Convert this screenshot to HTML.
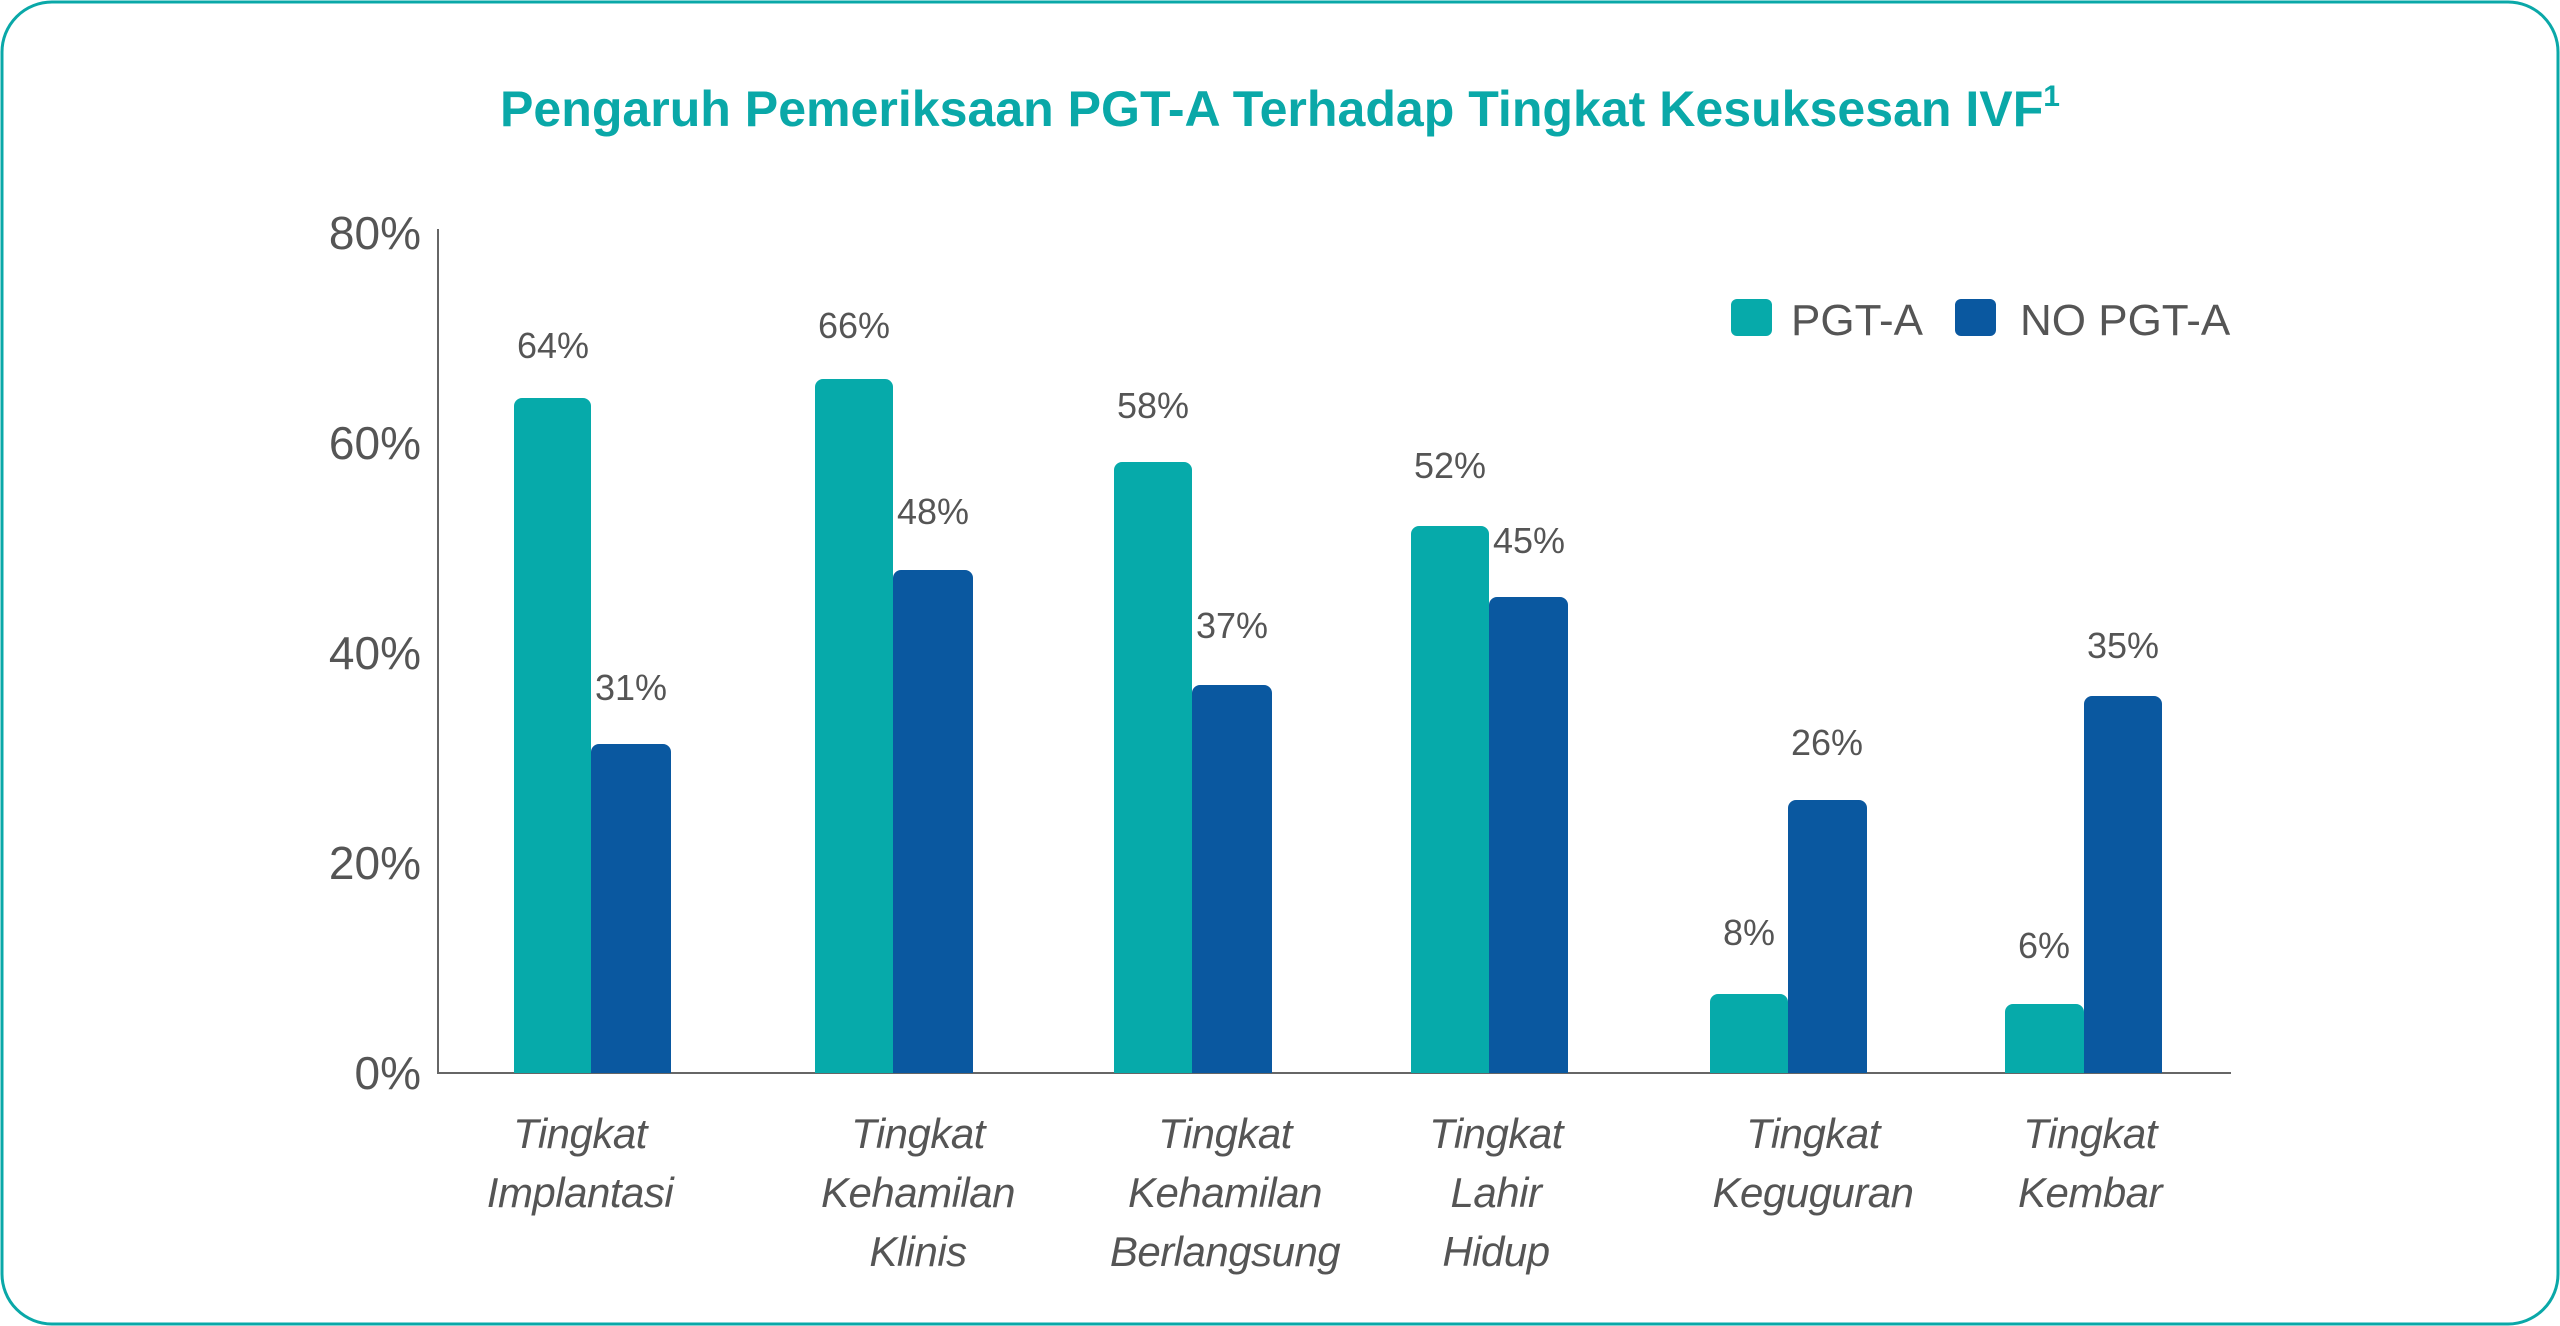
<!DOCTYPE html>
<html><head><meta charset="utf-8"><style>
html,body{margin:0;padding:0;background:#fff;}
svg{display:block;}
text{font-family:"Liberation Sans",sans-serif;}
</style></head><body>
<svg width="2560" height="1326" viewBox="0 0 2560 1326" xmlns="http://www.w3.org/2000/svg">
<rect x="2" y="2" width="2556" height="1322" rx="50" ry="50" fill="#fff" stroke="#0aa8a8" stroke-width="3"/>
<text x="1280" y="126" text-anchor="middle" font-size="50" font-weight="bold" fill="#0aa8a8" textLength="1560" lengthAdjust="spacingAndGlyphs">Pengaruh Pemeriksaan PGT-A Terhadap Tingkat Kesuksesan IVF<tspan font-size="30" dy="-20">1</tspan></text>
<g fill="#555" font-size="46" text-anchor="end">
<text x="421" y="249">80%</text>
<text x="421" y="459">60%</text>
<text x="421" y="669">40%</text>
<text x="421" y="879">20%</text>
<text x="421" y="1089">0%</text>
</g>
<line x1="438" y1="229" x2="438" y2="1074" stroke="#666" stroke-width="2"/>
<line x1="437" y1="1073" x2="2231" y2="1073" stroke="#666" stroke-width="2"/>
<g>
<path d="M514,1073 V406 a8,8 0 0 1 8,-8 H583 a8,8 0 0 1 8,8 V1073 Z" fill="#06aaaa"/>
<path d="M591,1073 V752 a8,8 0 0 1 8,-8 H663 a8,8 0 0 1 8,8 V1073 Z" fill="#0a58a0"/>
<path d="M815,1073 V387 a8,8 0 0 1 8,-8 H885 a8,8 0 0 1 8,8 V1073 Z" fill="#06aaaa"/>
<path d="M893,1073 V578 a8,8 0 0 1 8,-8 H965 a8,8 0 0 1 8,8 V1073 Z" fill="#0a58a0"/>
<path d="M1114,1073 V470 a8,8 0 0 1 8,-8 H1184 a8,8 0 0 1 8,8 V1073 Z" fill="#06aaaa"/>
<path d="M1192,1073 V693 a8,8 0 0 1 8,-8 H1264 a8,8 0 0 1 8,8 V1073 Z" fill="#0a58a0"/>
<path d="M1411,1073 V534 a8,8 0 0 1 8,-8 H1481 a8,8 0 0 1 8,8 V1073 Z" fill="#06aaaa"/>
<path d="M1489,1073 V605 a8,8 0 0 1 8,-8 H1560 a8,8 0 0 1 8,8 V1073 Z" fill="#0a58a0"/>
<path d="M1710,1073 V1002 a8,8 0 0 1 8,-8 H1780 a8,8 0 0 1 8,8 V1073 Z" fill="#06aaaa"/>
<path d="M1788,1073 V808 a8,8 0 0 1 8,-8 H1859 a8,8 0 0 1 8,8 V1073 Z" fill="#0a58a0"/>
<path d="M2005,1073 V1012 a8,8 0 0 1 8,-8 H2076 a8,8 0 0 1 8,8 V1073 Z" fill="#06aaaa"/>
<path d="M2084,1073 V704 a8,8 0 0 1 8,-8 H2154 a8,8 0 0 1 8,8 V1073 Z" fill="#0a58a0"/>
</g>
<g fill="#555" font-size="36" text-anchor="middle">
<text x="553" y="358">64%</text>
<text x="631" y="700">31%</text>
<text x="854" y="338">66%</text>
<text x="933" y="524">48%</text>
<text x="1153" y="418">58%</text>
<text x="1232" y="638">37%</text>
<text x="1450" y="478">52%</text>
<text x="1529" y="553">45%</text>
<text x="1749" y="945">8%</text>
<text x="1827" y="755">26%</text>
<text x="2044" y="958">6%</text>
<text x="2123" y="658">35%</text>
</g>
<rect x="1731" y="299" width="41" height="37" rx="6" fill="#06aaaa"/>
<text x="1791" y="335" font-size="44" fill="#555">PGT-A</text>
<rect x="1955" y="299" width="41" height="37" rx="6" fill="#0a58a0"/>
<text x="2020" y="335" font-size="44" fill="#555">NO PGT-A</text>
<g fill="#555" font-size="42" font-style="italic" text-anchor="middle" style="letter-spacing:-0.5px">
<text x="580" y="1148">Tingkat</text><text x="580" y="1207">Implantasi</text>
<text x="918" y="1148">Tingkat</text><text x="918" y="1207">Kehamilan</text><text x="918" y="1266">Klinis</text>
<text x="1225" y="1148">Tingkat</text><text x="1225" y="1207">Kehamilan</text><text x="1225" y="1266">Berlangsung</text>
<text x="1496" y="1148">Tingkat</text><text x="1496" y="1207">Lahir</text><text x="1496" y="1266">Hidup</text>
<text x="1813" y="1148">Tingkat</text><text x="1813" y="1207">Keguguran</text>
<text x="2090" y="1148">Tingkat</text><text x="2090" y="1207">Kembar</text>
</g>
</svg>
</body></html>
